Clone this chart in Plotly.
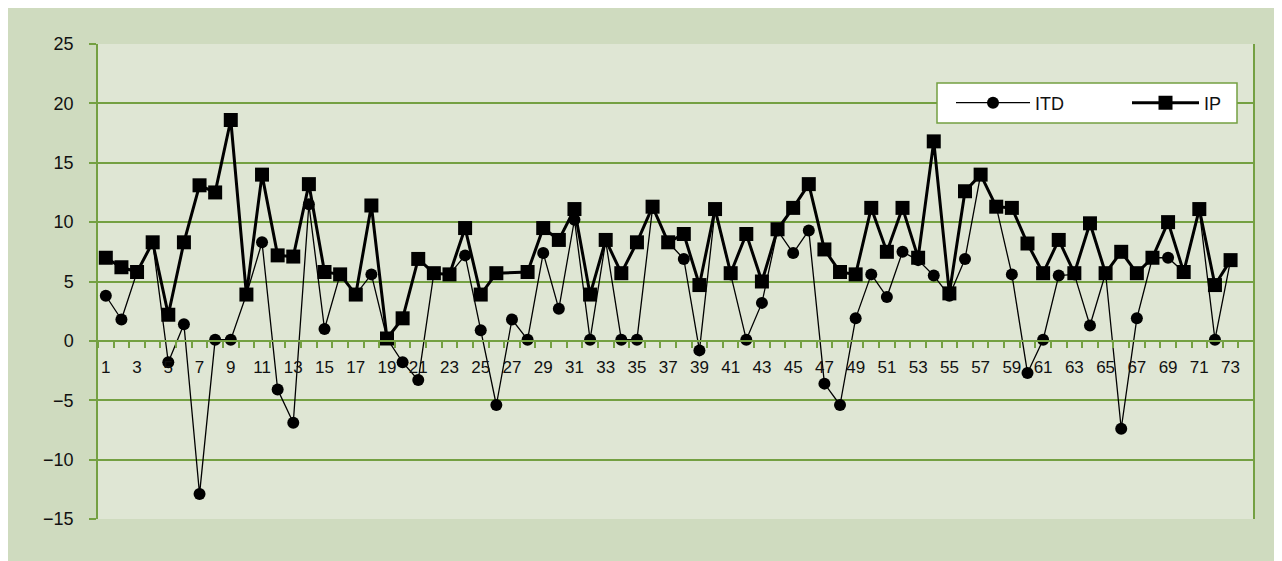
import plotly.graph_objects as go

# ---- data ----
periods = list(range(1, 74))
itd = [3.8, 1.8, 5.8, 8.3, -1.8, 1.4, -12.9, 0.1, 0.1, 3.9,
       8.3, -4.1, -6.9, 11.5, 1.0, 5.6, 3.9, 5.6, 0.2, -1.8,
       -3.3, 5.7, 5.6, 7.2, 0.9, -5.4, 1.8, 0.1, 7.4, 2.7,
       10.2, 0.1, 8.4, 0.1, 0.1, 11.2, 8.3, 6.9, -0.8, 11.0,
       5.6, 0.1, 3.2, 9.3, 7.4, 9.3, -3.6, -5.4, 1.9, 5.6,
       3.7, 7.5, 6.8, 5.5, 3.8, 6.9, 14.0, 11.3, 5.6, -2.7,
       0.1, 5.5, 5.6, 1.3, 5.7, -7.4, 1.9, 7.0, 7.0, 5.8,
       11.0, 0.1, 6.8]
ip = [7.0, 6.2, 5.8, 8.3, 2.2, 8.3, 13.1, 12.5, 18.6, 3.9,
      14.0, 7.2, 7.1, 13.2, 5.8, 5.6, 3.9, 11.4, 0.2, 1.9,
      6.9, 5.7, 5.6, 9.5, 3.9, 5.7, None, 5.8, 9.5, 8.5,
      11.1, 3.9, 8.5, 5.7, 8.3, 11.3, 8.3, 9.0, 4.7, 11.1,
      5.7, 9.0, 5.0, 9.4, 11.2, 13.2, 7.7, 5.8, 5.6, 11.2,
      7.5, 11.2, 7.0, 16.8, 4.0, 12.6, 14.0, 11.3, 11.2, 8.2,
      5.7, 8.5, 5.7, 9.9, 5.7, 7.5, 5.7, 7.0, 10.0, 5.8,
      11.1, 4.7, 6.8]
x_ticks = list(range(1, 74, 2))
y_range = [-15, 25]

# ---- layout geometry (figure pixels; page adds an 8px body margin) ----
W, H = 1282, 561
L, R, T, B = 90, W - 1246, 36, H - 511
pw, ph = W - L - R, H - T - B

GREEN = "#74a042"
OUTER = "#cfdbbf"
INNER = "#dfe6d4"
FONT = "Liberation Sans"
TXT = "#111111"


def px_x(p):
    return (p - L) / pw


def px_y(p):
    return (H - B - p) / ph


fig = go.Figure()
fig.add_trace(go.Scatter(
    x=periods, y=itd, name="ITD", mode="lines+markers", legend="legend",
    line=dict(color="black", width=1.3),
    marker=dict(symbol="circle", size=12, color="black"),
))
fig.add_trace(go.Scatter(
    x=periods, y=ip, name="IP", mode="lines+markers", connectgaps=True,
    legend="legend2",
    line=dict(color="black", width=3),
    marker=dict(symbol="square", size=14, color="black"),
))

shapes = [
    # legend box
    dict(type="rect", xref="paper", yref="paper",
         x0=px_x(929), x1=px_x(1229), y0=px_y(115), y1=px_y(75),
         fillcolor="white", line=dict(color=GREEN, width=1.5), layer="above"),
    # right border of plot area
    dict(type="line", xref="paper", yref="paper", x0=1, x1=1, y0=0, y1=1,
         line=dict(color=GREEN, width=2), layer="above"),
]

zero_frac = (0 - y_range[0]) / (y_range[1] - y_range[0])

legend_common = dict(
    orientation="h", xanchor="left", yanchor="middle",
    bgcolor="rgba(0,0,0,0)", borderwidth=0,
    font=dict(family=FONT, size=18, color=TXT),
)

fig.update_layout(
    width=W, height=H,
    margin=dict(l=L, r=R, t=T, b=B, pad=0),
    paper_bgcolor=OUTER, plot_bgcolor=INNER,
    font=dict(family=FONT, size=18, color=TXT),
    showlegend=True,
    legend=dict(x=px_x(943), y=px_y(95), itemwidth=74, **legend_common),
    legend2=dict(x=px_x(1119), y=px_y(95), itemwidth=67, **legend_common),
    xaxis=dict(
        range=[0.5, 74.5], anchor="free", position=zero_frac,
        tickmode="array", tickvals=x_ticks, ticktext=[str(v) for v in x_ticks],
        ticks="", showgrid=False, zeroline=False,
        showline=True, linecolor=GREEN, linewidth=1.5,
        ticklabelstandoff=11,
        tickfont=dict(family=FONT, size=17, color=TXT),
        minor=dict(tick0=0.5, dtick=1, ticks="outside", ticklen=6,
                   tickcolor=GREEN, tickwidth=1.5, showgrid=False),
    ),
    yaxis=dict(
        range=y_range, dtick=5, tick0=0,
        showgrid=True, gridcolor=GREEN, gridwidth=1.5,
        zeroline=False, showline=True, linecolor=GREEN, linewidth=1.5,
        ticks="outside", ticklen=7, tickcolor=GREEN, tickwidth=1.5,
        ticklabelstandoff=12,
        tickfont=dict(family=FONT, size=18, color=TXT),
    ),
    shapes=shapes,
)

fig.write_html("out.html")
